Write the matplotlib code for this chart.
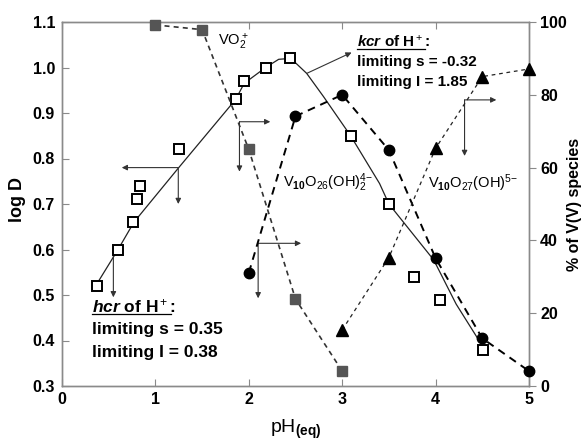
import matplotlib
matplotlib.use("Agg")
import matplotlib.pyplot as plt

# ---------------- data ----------------
ph_sq = [0.37, 0.60, 0.76, 0.80, 0.83, 1.25, 1.86, 1.95, 2.18, 2.44, 3.09, 3.50, 3.77, 4.05, 4.51]
logd_sq = [0.52, 0.60, 0.66, 0.71, 0.74, 0.82, 0.93, 0.97, 1.00, 1.02, 0.85, 0.70, 0.54, 0.49, 0.38]

fit_ph = [0.39, 0.60, 0.77, 1.25, 1.86, 1.95, 2.18, 2.32, 2.45, 2.62, 2.80, 3.09, 3.40, 3.50, 3.98, 4.22, 4.48]
fit_logd = [0.53, 0.60, 0.66, 0.78, 0.93, 0.965, 1.00, 1.018, 1.02, 0.987, 0.936, 0.85, 0.745, 0.70, 0.577, 0.48, 0.395]

ph_vo2 = [1.0, 1.5, 2.0, 2.5, 3.0]
pct_vo2 = [99.2, 97.9, 65.0, 23.9, 4.1]

ph_v26 = [2.0, 2.5, 3.0, 3.5, 4.0, 4.5, 5.0]
pct_v26 = [31.1, 74.1, 80.0, 64.8, 35.1, 13.1, 4.1]

ph_v27 = [3.0, 3.5, 4.0, 4.5, 5.0]
pct_v27 = [15.4, 35.3, 65.3, 85.0, 87.1]

x_ticks = [0, 1, 2, 3, 4, 5]
left_ticks = [0.3, 0.4, 0.5, 0.6, 0.7, 0.8, 0.9, 1.0, 1.1]
right_ticks = [0, 20, 40, 60, 80, 100]

# ---------------- fonts ----------------
fam = "Liberation Sans"
plt.rcParams["font.family"] = [fam, "DejaVu Sans"]
plt.rcParams["mathtext.fontset"] = "custom"
plt.rcParams["mathtext.rm"] = fam
plt.rcParams["mathtext.it"] = fam + ":italic:bold"
plt.rcParams["mathtext.bf"] = fam + ":bold"

fig = plt.figure(figsize=(5.84, 4.43), dpi=100)
ax = fig.add_axes([62 / 584, 1 - 386 / 443, 467 / 584, 364 / 443])
ax2 = ax.twinx()

spine_c = "#8a8a8a"
for a in (ax, ax2):
    for s in a.spines.values():
        s.set_color(spine_c)
        s.set_linewidth(1.0)

ax.set_xlim(0, 5)
ax.set_ylim(0.3, 1.1)
ax2.set_ylim(0, 100)
ax.set_xticks(x_ticks)
ax.set_yticks(left_ticks)
ax.set_yticklabels([f"{v:.1f}" for v in left_ticks])
ax2.set_yticks(right_ticks)
ax.tick_params(axis="both", direction="in", length=5, color=spine_c, labelsize=11.5, pad=5)
ax.tick_params(axis="x", top=True, pad=4)
ax2.tick_params(axis="y", direction="out", length=5, color=spine_c, labelsize=11.5, pad=3)
for lab in ax.get_xticklabels() + ax.get_yticklabels() + ax2.get_yticklabels():
    lab.set_fontweight("bold")

# fit line and squares (left axis)
ax.plot(fit_ph, fit_logd, color="#222222", lw=0.9, zorder=2)
ax.plot(ph_sq, logd_sq, ls="none", marker="s", ms=7, mfc="white", mec="black", mew=1.4, zorder=5,
        clip_on=False)

# species (right axis)
ax2.plot(ph_vo2, pct_vo2, color="#333333", lw=1.2, ls=(0, (3, 2.5)), marker="s", ms=7.5,
         mfc="#555555", mec="#555555", zorder=4, clip_on=False)
ax2.plot(ph_v26, pct_v26, color="black", lw=1.4, ls=(0, (4, 3)), marker="o", ms=7.5,
         mfc="black", mec="black", zorder=4, clip_on=False)
ax2.plot(ph_v27, pct_v27, color="#222222", lw=0.9, ls=(0, (3, 3)), marker="^", ms=9,
         mfc="black", mec="black", zorder=4, clip_on=False)

# arrows
ap = dict(arrowstyle="-|>", lw=0.8, color="#333333", mutation_scale=8, shrinkA=0, shrinkB=0)
def arr(a, x0, y0, x1, y1):
    a.annotate("", xy=(x1, y1), xytext=(x0, y0), arrowprops=ap)

arr(ax, 1.245, 0.78, 0.64, 0.78)
arr(ax, 1.245, 0.78, 1.245, 0.70)
arr(ax, 0.55, 0.60, 0.55, 0.495)
arr(ax2, 1.90, 72.6, 2.23, 72.6)
arr(ax2, 1.90, 72.6, 1.90, 58.9)
arr(ax2, 2.10, 39.2, 2.56, 39.2)
arr(ax2, 2.10, 39.2, 2.10, 24.1)
arr(ax2, 4.31, 78.6, 4.65, 78.6)
arr(ax2, 4.31, 78.6, 4.31, 63.2)
arr(ax, 2.62, 0.987, 3.10, 1.033)

# species labels
ax.text(1.67, 1.056, r"VO$_2^+$", fontsize=10.5, va="center", ha="left")
ax.text(2.37, 0.746, r"V$_{\mathbf{10}}$O$_{26}$(OH)$_2^{4\!-}$", fontsize=10.5, va="center", ha="left")
ax.text(3.92, 0.746, r"V$_{\mathbf{10}}$O$_{27}$(OH)$^{5\!-}$", fontsize=10.5, va="center", ha="left")

# kcr block
kw = dict(fontweight="bold", va="center", ha="left")
t1 = ax.text(3.16, 1.056, r"$\mathit{kcr}$ of H$^+$:", fontsize=11, **kw)
ax.text(3.16, 1.012, "limiting s = -0.32", fontsize=11, **kw)
ax.text(3.16, 0.968, "limiting I = 1.85", fontsize=11, **kw)

# hcr block
t2 = ax.text(0.32, 0.476, r"$\mathit{hcr}$ of H$^+$:", fontsize=12.5, **kw)
ax.text(0.32, 0.425, "limiting s = 0.35", fontsize=12.5, **kw)
ax.text(0.32, 0.374, "limiting I = 0.38", fontsize=12.5, **kw)

ax.set_xlabel(r"pH$_{\mathbf{(eq)}}$", fontsize=14, labelpad=8)
fig.text(18 / 584, 1 - 200 / 443, "log D", fontsize=13, fontweight="bold",
         rotation=90, ha="center", va="center")
fig.text(575 / 584, 1 - 204 / 443, "% of V(V) species", fontsize=11.5, fontweight="bold",
         rotation=90, ha="center", va="center")

# underline the hcr / kcr headers
fig.canvas.draw()
r = fig.canvas.get_renderer()
for t in (t1, t2):
    bb = t.get_window_extent(renderer=r)
    w, h = fig.bbox.width, fig.bbox.height
    y = (bb.y0 + 1) / h
    fig.add_artist(plt.Line2D([bb.x0 / w, (bb.x1 - 5) / w], [y, y], color="black", lw=0.9))

fig.savefig("out.png", dpi=100)
